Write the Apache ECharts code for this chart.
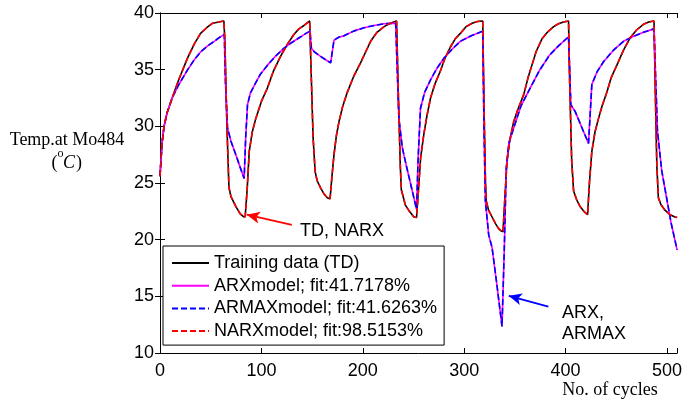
<!DOCTYPE html>
<html>
<head>
<meta charset="utf-8">
<script src="https://cdn.jsdelivr.net/npm/echarts/dist/echarts.min.js"></script>
<style>html,body{margin:0;padding:0;background:#fff}#c{width:685px;height:403px}</style>
</head>
<body>
<div id="c"></div>
<script>
// ---- data ----
const xTicks = [0, 100, 200, 300, 400, 500];
const yTicks = [10, 15, 20, 25, 30, 35, 40];

const seriesNames = ['Training data (TD)', 'ARXmodel; fit:41.7178%', 'ARMAXmodel; fit:41.6263%', 'NARXmodel; fit:98.5153%'];

// Training data (TD) — cycles
const tdX = [0,2,4,7,12,18,27,34,40,46,52,58,63,
  64,66,68,70,75,79,82,84,
  86,88,91,94.5,100,106,112,119,126,132,137,142,147.6,
  149,151,153,155,158.5,162,165,167.7,
  169.5,171.6,174,176.5,180,184.7,191,197.8,203,207.7,214,221,226,233.3,
  235,237,238,242,246,250.4,253,
  255,257,260.2,263,266.8,271,276.6,281,286.4,291,296.2,302,307.8,313,318.3,
  319.5,321,321.8,324,327.5,331,333.8,336,338.3,
  340,342.2,345,348.8,353,358.7,363,366.8,371,376.6,382,388.2,393,398,402.9,
  404,406,407.9,411,414.5,418,421.7,
  423.5,425.9,429,432.5,436,440.7,445,450.6,457,463.6,470,476.8,482,487.2,
  488.5,490,491.5,494,498,503,507.9,510];
const tdY = [25.6,28.5,30.0,31.2,32.5,34.0,36.0,37.3,38.2,38.7,39.1,39.2,39.3,
  37.5,30.0,24.6,23.8,22.9,22.3,22.05,22.0,
  24.5,27.8,29.5,30.7,32.2,33.4,34.9,36.2,37.3,38.1,38.6,38.9,39.3,
  35.0,29.0,26.0,25.2,24.55,24.0,23.7,23.6,
  25.5,27.5,29.2,30.4,31.7,33.0,34.4,35.6,36.6,37.5,38.3,38.8,39.05,39.3,
  33.0,26.5,24.4,23.05,22.5,22.0,21.95,
  24.5,27.2,29.3,30.8,32.5,33.7,34.9,36.0,37.0,37.7,38.2,38.8,39.1,39.25,39.3,
  32.0,25.0,23.4,22.6,22.0,21.4,21.0,20.8,20.7,
  23.5,26.9,28.8,30.4,31.5,32.8,34.3,35.4,36.6,37.7,38.3,38.8,39.05,39.2,39.3,
  34.0,27.0,24.3,23.5,22.9,22.5,22.2,
  25.0,27.8,29.5,30.7,31.8,33.0,34.3,35.4,36.7,37.8,38.5,39.0,39.2,39.3,
  33.0,26.5,23.7,23.1,22.6,22.2,22.0,21.95];

// ARX model output
const arxX = [0,2,4,7,12,18,27.3,34,40.4,47,53.5,58,63.4,
  64.5,66.6,69.9,74.8,79,83,
  84.5,86.3,89,92.9,99,106,114,122.4,130,138.8,144,148,
  149.3,151.9,158,163,168.3,
  171.6,176,181.5,191,201.2,211,220.9,232.4,
  235.6,239,243,248,253,
  254.5,256.9,261,266.8,273,279.9,288,296.2,307,318.3,
  319.5,320.9,324.2,327.5,332,337.3,
  339.5,341.5,344,348.8,356,365.2,374,384.3,393,402.9,
  405.2,409.5,416,422.6,
  425.9,431,437.4,447,457.1,466,476.8,487.2,
  490.6,494.8,500,504,510];
const arxY = [25.6,28.5,30.0,31.2,32.5,33.6,35.0,35.9,36.6,37.1,37.5,37.8,38.1,
  34.0,29.85,28.7,27.5,26.4,25.4,
  29.0,31.9,32.9,33.6,34.6,35.4,36.2,36.9,37.4,37.9,38.2,38.4,
  36.9,36.6,36.2,35.9,35.6,
  37.6,37.85,38.0,38.4,38.7,38.9,39.05,39.1,
  30.7,28.1,26.5,24.6,22.7,
  27.0,31.6,33.0,34.1,35.1,36.0,36.8,37.5,38.0,38.4,
  30.0,23.4,20.4,19.3,16.2,12.35,
  19.0,26.3,28.5,29.85,31.8,33.4,34.9,36.3,37.1,37.9,
  31.9,31.3,29.9,28.5,
  33.7,34.8,35.7,36.7,37.5,37.9,38.3,38.6,
  29.6,26.1,23.5,21.5,19.1];

// ARMAX and NARX are indistinguishable from ARX and TD in the picture
const armaxX = arxX, armaxY = arxY;
const narxX = tdX, narxY = tdY;

// annotation arrows (data coordinates: tail -> head)
const arrowTD = [[130, 21.3], [85.6, 22.2]];
const arrowARX = [[383, 14.1], [344, 15.05]];

// ---- build chart ----
const pairs = (xs, ys) => xs.map((x, i) => [x, ys[i]]);
const chart = echarts.init(document.getElementById('c'), null, {renderer: 'canvas'});
const sans = 'Liberation Sans, Arial, sans-serif';
const serif = 'Liberation Serif, Times New Roman, serif';

const axisCommon = {
  axisLine: {show: true, lineStyle: {color: '#000', width: 1}},
  axisTick: {show: true, inside: true, length: 5, lineStyle: {color: '#000'}},
  splitLine: {show: false}
};

function mkLine(name, data, color, type, markLine) {
  const s = {
    name, type: 'line', data, symbol: 'none', showSymbol: false,
    lineStyle: {color, width: 1.6, type},
    itemStyle: {color},
    animation: false, clip: true, silent: true
  };
  if (markLine) s.markLine = markLine;
  return s;
}

const mkArrow = (pts, color) => ({
  silent: true, animation: false,
  symbol: ['none', 'arrow'], symbolSize: [9, 13],
  label: {show: false},
  lineStyle: {color, width: 1.8, type: 'solid'},
  data: [[{coord: pts[0]}, {coord: pts[1]}]]
});

const option = {
  backgroundColor: '#fff',
  animation: false,
  grid: {left: 160, right: 7, top: 13, bottom: 50, show: false},
  xAxis: [
    Object.assign({}, axisCommon, {
      type: 'value', min: 0, max: 510, interval: 100, position: 'bottom',
      axisLabel: {show: true, margin: 9, color: '#000', fontFamily: sans, fontSize: 18,
        formatter: v => (xTicks.indexOf(v) >= 0 ? String(v) : '')}
    }),
    Object.assign({}, axisCommon, {
      type: 'value', min: 0, max: 510, interval: 100, position: 'top',
      axisLabel: {show: false}
    })
  ],
  yAxis: [
    Object.assign({}, axisCommon, {
      type: 'value', min: 10, max: 40, interval: 5, position: 'left',
      axisLabel: {show: true, margin: 6, color: '#000', fontFamily: sans, fontSize: 18,
        formatter: v => (yTicks.indexOf(v) >= 0 ? String(v) : '')}
    }),
    Object.assign({}, axisCommon, {
      type: 'value', min: 10, max: 40, interval: 5, position: 'right',
      axisLabel: {show: false}
    })
  ],
  legend: {
    orient: 'vertical', left: 163, top: 246,
    itemWidth: 37, itemHeight: 14, itemGap: 2.7,
    padding: [7, 7, 4, 8],
    borderColor: '#000', borderWidth: 1, backgroundColor: '#fff',
    selectedMode: false,
    itemStyle: {color: 'rgba(0,0,0,0)', borderColor: 'rgba(0,0,0,0)', borderWidth: 0, opacity: 0},
    textStyle: {color: '#000', fontFamily: sans, fontSize: 18, lineHeight: 20},
    data: seriesNames
  },
  series: [
    mkLine(seriesNames[0], pairs(tdX, tdY), '#000000', 'solid'),
    mkLine(seriesNames[1], pairs(arxX, arxY), '#ff00ff', 'solid'),
    mkLine(seriesNames[2], pairs(armaxX, armaxY), '#0000ff', [6, 3], mkArrow(arrowARX, '#0000ff')),
    mkLine(seriesNames[3], pairs(narxX, narxY), '#ff0000', [6, 3], mkArrow(arrowTD, '#ff0000'))
  ],
  graphic: [
    {type: 'text', x: 342, y: 231, style: {text: 'TD, NARX', fill: '#000', font: '18px ' + sans, align: 'center', verticalAlign: 'middle'}},
    {type: 'text', x: 562, y: 313, style: {text: 'ARX,', fill: '#000', font: '18px ' + sans, align: 'left', verticalAlign: 'middle'}},
    {type: 'text', x: 562, y: 334, style: {text: 'ARMAX', fill: '#000', font: '18px ' + sans, align: 'left', verticalAlign: 'middle'}},
    {type: 'text', x: 610, y: 390, style: {text: 'No. of cycles', fill: '#000', font: '18px ' + serif, align: 'center', verticalAlign: 'middle'}},
    {type: 'text', x: 67, y: 140, style: {text: 'Temp.at Mo484', fill: '#000', font: '18px ' + serif, align: 'center', verticalAlign: 'middle'}},
    {type: 'text', x: 51.5, y: 163, style: {text: '(', fill: '#000', font: '18px ' + serif, align: 'left', verticalAlign: 'middle'}},
    {type: 'text', x: 57.5, y: 154, style: {text: 'o', fill: '#000', font: '12px ' + serif, align: 'left', verticalAlign: 'middle'}},
    {type: 'text', x: 63, y: 163, style: {text: 'C', fill: '#000', font: 'italic 18px ' + serif, align: 'left', verticalAlign: 'middle'}},
    {type: 'text', x: 76, y: 163, style: {text: ')', fill: '#000', font: '18px ' + serif, align: 'left', verticalAlign: 'middle'}}
  ]
};
chart.setOption(option);
</script>
</body>
</html>
